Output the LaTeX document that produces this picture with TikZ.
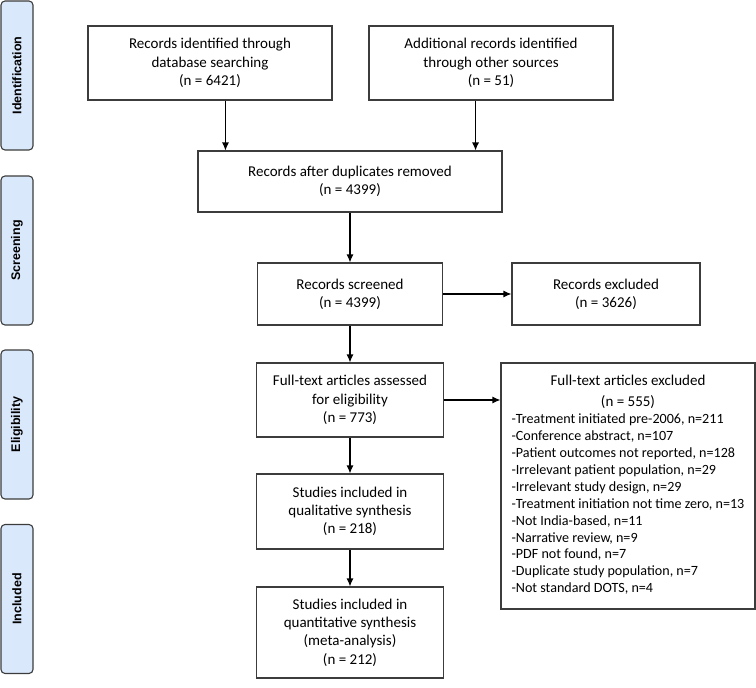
\documentclass[tikz,border=0pt]{standalone}
\usepackage{fontspec}
\setmainfont{Carlito}
\newfontfamily\sidefont{Liberation Sans}
\usepackage{tikz}
\usetikzlibrary{arrows.meta}
\definecolor{sideblue}{RGB}{218,232,252}
\definecolor{edgegray}{RGB}{60,60,60}

\begin{document}
\begin{tikzpicture}[x=1pt,y=-1pt]
  \tikzstyle{pbox}=[rectangle,draw=edgegray,line width=1.1pt,align=center,inner sep=2pt,font=\fontsize{15}{18.3}\selectfont]
  \tikzstyle{phase}=[rectangle,rounded corners=4pt,draw=edgegray,fill=sideblue,line width=1.1pt,rotate=90,minimum width=149pt,minimum height=32pt,font=\sidefont\bfseries\fontsize{12.5}{15}\selectfont]
  \tikzstyle{flow}=[-{Latex[length=8pt,width=7pt]},line width=1.1pt]
  \useasboundingbox (0,0) rectangle (756,688);
  \node[phase] (idn) at (17,75.5) {Identification};
  \node[phase] (scn) at (17,250.5) {Screening};
  \node[phase] (elg) at (17,424.5) {Eligibility};
  \node[phase] (inc) at (17,599) {Included};
  \node[pbox,minimum width=244pt,minimum height=74pt] (dbs) at (210,63) {Records identified through\\database searching\\(n = 6421)};
  \node[pbox,minimum width=244pt,minimum height=74pt] (oth) at (491,63) {Additional records identified\\through other sources\\(n = 51)};
  \node[pbox,minimum width=304pt,minimum height=61pt] (dup) at (350,181.5) {Records after duplicates removed\\(n = 4399)};
  \node[pbox,minimum width=185pt,minimum height=62pt] (scr) at (350,294) {Records screened\\(n = 4399)};
  \node[pbox,minimum width=188pt,minimum height=62pt] (rex) at (606,294) {Records excluded\\(n = 3626)};
  \node[pbox,minimum width=187pt,minimum height=74pt] (fta) at (350,400) {Full-text articles assessed\\for eligibility\\(n = 773)};
  \node[pbox,minimum width=187pt,minimum height=75pt] (qual) at (350,511.5) {Studies included in\\qualitative synthesis\\(n = 218)};
  \node[pbox,minimum width=187pt,minimum height=91pt] (quant) at (350,632.5) {Studies included in\\quantitative synthesis\\(meta-analysis)\\(n = 212)};
  \node[pbox,minimum width=254pt,minimum height=246pt,font=\fontsize{14.1}{16.9}\selectfont] (ftx) at (628,486) {%
    \begin{tabular}{@{}l@{}}
      \multicolumn{1}{@{}c@{}}{\fontsize{15}{18.3}\selectfont Full-text articles excluded}\\[4pt]
      \multicolumn{1}{@{}c@{}}{\fontsize{15}{18.3}\selectfont (n = 555)}\\
      -Treatment initiated pre-2006, n=211\\
      -Conference abstract, n=107\\
      -Patient outcomes not reported, n=128\\
      -Irrelevant patient population, n=29\\
      -Irrelevant study design, n=29\\
      -Treatment initiation not time zero, n=13\\
      -Not India-based, n=11\\
      -Narrative review, n=9\\
      -PDF not found, n=7\\
      -Duplicate study population, n=7\\
      -Not standard DOTS, n=4
    \end{tabular}};
  \coordinate (lft) at ([xshift=28pt]dup.north west);
  \coordinate (rgt) at ([xshift=-27pt]dup.north east);
  \draw[flow] (lft |- dbs.south) -- (lft);
  \draw[flow] (rgt |- oth.south) -- (rgt);
  \draw[flow] (dup) -- (scr);
  \draw[flow] (scr) -- (rex);
  \draw[flow] (scr) -- (fta);
  \draw[flow] (fta.east) -- (fta.east -| ftx.west);
  \draw[flow] (fta) -- (qual);
  \draw[flow] (qual) -- (quant);
\end{tikzpicture}
\end{document}
